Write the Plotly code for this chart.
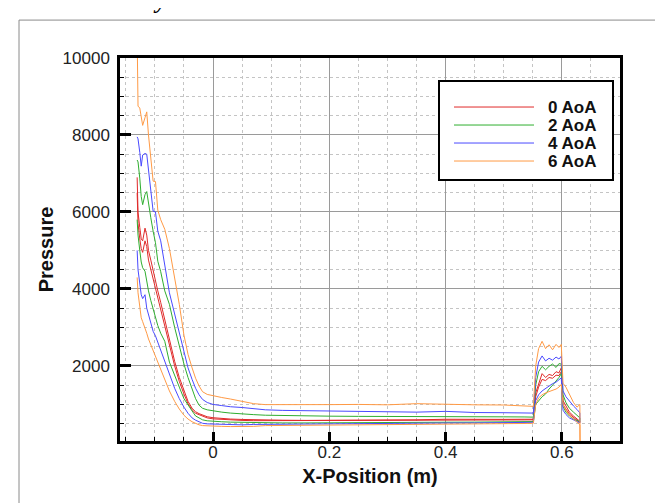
import plotly.graph_objects as go

# ---------------- data ----------------
X = [-0.1305, -0.129, -0.126, -0.1235, -0.121, -0.117, -0.114, -0.111, -0.107, -0.103,
     -0.099, -0.095, -0.09, -0.083, -0.075, -0.066, -0.058, -0.05, -0.043, -0.036,
     -0.03, -0.024, -0.018, -0.01, 0.0, 0.015, 0.03, 0.05, 0.07, 0.09,
     0.12, 0.16, 0.2, 0.25, 0.3, 0.35, 0.4, 0.45, 0.5, 0.535,
     0.551, 0.555, 0.56, 0.566, 0.572, 0.578, 0.584, 0.59, 0.595, 0.599,
     0.602, 0.607, 0.613, 0.62, 0.626, 0.631]

# 0 AoA (red)
AOA0_UP = [6900, 6000, 5600, 5300, 5250, 5580, 5400, 5000, 4750, 4450,
           4200, 3950, 3650, 3200, 2700, 2120, 1700, 1350, 1080, 900,
           810, 760, 720, 680, 655, 635, 620, 610, 600, 595,
           590, 585, 585, 590, 595, 600, 615, 605, 612, 615,
           615, 1300, 1550, 1800, 1700, 1780, 1750, 1850, 1820, 1950,
           1100, 950, 800, 700, 620, 560]
AOA0_LO = [6500, 5700, 5300, 5050, 4950, 5250, 5100, 4750, 4500, 4250,
           4000, 3750, 3450, 3020, 2550, 2000, 1600, 1270, 1020, 860,
           770, 720, 690, 650, 625, 605, 595, 585, 578, 572,
           570, 568, 570, 575, 580, 585, 595, 590, 595, 598,
           600, 1200, 1450, 1650, 1620, 1700, 1680, 1760, 1750, 1850,
           1000, 880, 750, 660, 590, 530]
# 2 AoA (green)
AOA2_UP = [7350, 7300, 6880, 6400, 6190, 6450, 6530, 6190, 5850, 5500,
           5200, 4720, 4450, 3950, 3600, 3000, 2500, 2050, 1700, 1400,
           1150, 980, 900, 860, 830, 800, 775, 750, 735, 720,
           710, 700, 695, 690, 690, 685, 695, 680, 678, 675,
           670, 1500, 1850, 1990, 1900, 1990, 2050, 1960, 2060, 2050,
           1250, 1050, 900, 800, 720, 650]
AOA2_LO = [5800, 5400, 5000, 4700, 4550, 4460, 4200, 3950, 3700, 3450,
           3250, 3050, 2850, 2640, 2100, 1750, 1450, 1150, 995, 830,
           700, 640, 600, 575, 563, 550, 540, 530, 525, 522,
           520, 520, 522, 525, 528, 530, 538, 540, 545, 550,
           555, 1000, 1100, 1200, 1270, 1400, 1500, 1600, 1700, 1800,
           950, 800, 700, 620, 580, 550]
# 4 AoA (blue)
AOA4_UP = [7950, 7900, 7550, 7190, 7480, 7520, 7500, 7050, 6550, 6020,
           6000, 5500, 5250, 4600, 3900, 3350, 2850, 2400, 1950, 1650,
           1420, 1250, 1130, 1050, 1000, 970, 940, 920, 890, 860,
           845, 835, 830, 825, 810, 800, 820, 790, 785, 780,
           775, 1700, 2100, 2260, 2130, 2200, 2150, 2230, 2180, 2250,
           1350, 1200, 1080, 960, 870, 780]
AOA4_LO = [5000, 4500, 4100, 3850, 3750, 3850, 3500, 3300, 3100, 2900,
           2780, 2640, 2400, 2100, 1800, 1420, 1150, 930, 770, 650,
           590, 540, 510, 495, 485, 478, 472, 470, 480, 495,
           500, 502, 505, 508, 510, 512, 518, 520, 525, 530,
           535, 1100, 1250, 1350, 1430, 1480, 1540, 1580, 1630, 1690,
           850, 740, 650, 590, 560, 520]
# 6 AoA (orange)
AOA6_UP = [10600, 8750, 8700, 8400, 8250, 8450, 8600, 8000, 7300, 6800,
           6790, 6050, 5800, 5550, 5050, 4300, 3600, 2800, 2300, 1950,
           1680, 1480, 1330, 1260, 1220, 1180, 1140, 1080, 1020, 995,
           1000, 1005, 995, 1000, 990, 1020, 1000, 990, 985, 970,
           950, 2000, 2450, 2640, 2450, 2550, 2420, 2560, 2480, 2560,
           1550, 1450, 1250, 1050, 930, 1000]
AOA6_LO = [4300, 3900, 3500, 3250, 3150, 3000, 2850, 2700, 2550, 2400,
           2250, 2080, 1900, 1650, 1350, 1080, 880, 720, 620, 550,
           500, 470, 450, 440, 435, 430, 425, 420, 430, 450,
           460, 465, 470, 475, 480, 485, 490, 495, 500, 505,
           510, 1000, 1170, 1250, 1300, 1330, 1370, 1400, 1450, 1520,
           1000, 850, 720, 620, 540, 470]
AOA6_TAIL = [-500]   # orange trailing vertical drop below the axis

SERIES = ["0 AoA", "2 AoA", "4 AoA", "6 AoA"]
COLORS = ["#e02a2a", "#2fae2f", "#4a4aff", "#ff9a45"]
X_TICKS = [0, 0.2, 0.4, 0.6]
X_LABELS = ["0", "0.2", "0.4", "0.6"]
Y_TICKS = [2000, 4000, 6000, 8000, 10000]
Y_LABELS = ["2000", "4000", "6000", "8000", "10000"]

curves = [(AOA0_UP, AOA0_LO, []), (AOA2_UP, AOA2_LO, []),
          (AOA4_UP, AOA4_LO, []), (AOA6_UP, AOA6_LO, AOA6_TAIL)]

fig = go.Figure()
for name, color, (up, lo, tail) in zip(SERIES, COLORS, curves):
    xs = list(X) + [X[-1] + 0.0005] * len(tail) + list(reversed(X))
    ys = list(up) + list(tail) + list(reversed(lo))
    fig.add_trace(go.Scatter(x=xs, y=ys, mode="lines", name=name,
                             line=dict(color=color, width=1), showlegend=False))

FONT = "Liberation Sans, Arial, sans-serif"

fig.update_xaxes(
    range=[-0.16, 0.70], tickvals=X_TICKS, ticktext=X_LABELS,
    showline=True, linecolor="black", linewidth=2.5, mirror=True,
    ticks="inside", ticklen=9, tickwidth=3, tickcolor="black",
    showgrid=True, gridcolor="#9a9a9a", gridwidth=1, zeroline=False,
    tickfont=dict(family=FONT, size=17, color="#222"), ticklabelstandoff=-6,
    minor=dict(dtick=0.05, tick0=0, ticks="inside", ticklen=4, tickwidth=1, tickcolor="black",
               showgrid=True, gridcolor="#c4c4c4", griddash="dot", gridwidth=1),
    title=dict(text="<b>X-Position (m)</b>", font=dict(family=FONT, size=20, color="#111"),
               standoff=8),
    automargin=False,
)
fig.update_yaxes(
    range=[50, 10000], tickvals=Y_TICKS, ticktext=Y_LABELS,
    showline=True, linecolor="black", linewidth=2.5, mirror=True,
    ticks="inside", ticklen=11, tickwidth=3, tickcolor="black",
    showgrid=True, gridcolor="#9a9a9a", gridwidth=1, zeroline=False,
    tickfont=dict(family=FONT, size=17, color="#222"), ticklabelstandoff=4,
    minor=dict(dtick=500, tick0=0, ticks="inside", ticklen=4, tickwidth=1, tickcolor="black",
               showgrid=True, gridcolor="#c4c4c4", griddash="dot", gridwidth=1),
    title=dict(text="<b>Pressure</b>", font=dict(family=FONT, size=20, color="#111"),
               standoff=4),
    automargin=False,
)

# ---- legend box drawn in paper coordinates ----
shapes = [dict(type="rect", xref="paper", yref="paper", x0=0.638, x1=0.986, y0=0.6815, y1=0.940,
               line=dict(color="black", width=2), fillcolor="white", layer="above")]
annots = []
leg_y = [0.872, 0.825, 0.778, 0.731]
for name, color, yy in zip(SERIES, COLORS, leg_y):
    shapes.append(dict(type="line", xref="paper", yref="paper", x0=0.668, x1=0.828, y0=yy, y1=yy,
                       line=dict(color=color, width=1), layer="above"))
    annots.append(dict(xref="paper", yref="paper", x=0.958, y=yy, xanchor="right", yanchor="middle",
                       text="<b>" + name + "</b>", showarrow=False,
                       font=dict(family=FONT, size=17, color="#111")))

# page border fragments (document frame around the figure)
shapes.append(dict(type="line", xref="paper", yref="paper", x0=-0.202, x1=1.12, y0=1.099, y1=1.099,
                   line=dict(color="#8a8a8a", width=1)))
shapes.append(dict(type="line", xref="paper", yref="paper", x0=-0.202, x1=-0.202, y0=1.099, y1=-0.2,
                   line=dict(color="#8a8a8a", width=1)))
annots.append(dict(xref="paper", yref="paper", x=0.08, y=1.112, xanchor="center", yanchor="bottom",
                   text="<b><i>y</i></b>", showarrow=False,
                   font=dict(family="Liberation Serif, serif", size=24, color="black")))

fig.update_layout(
    width=663, height=503,
    margin=dict(l=112, r=51, t=50, b=70),
    paper_bgcolor="white", plot_bgcolor="white",
    shapes=shapes, annotations=annots, showlegend=False,
)

fig.write_html("out.html")
